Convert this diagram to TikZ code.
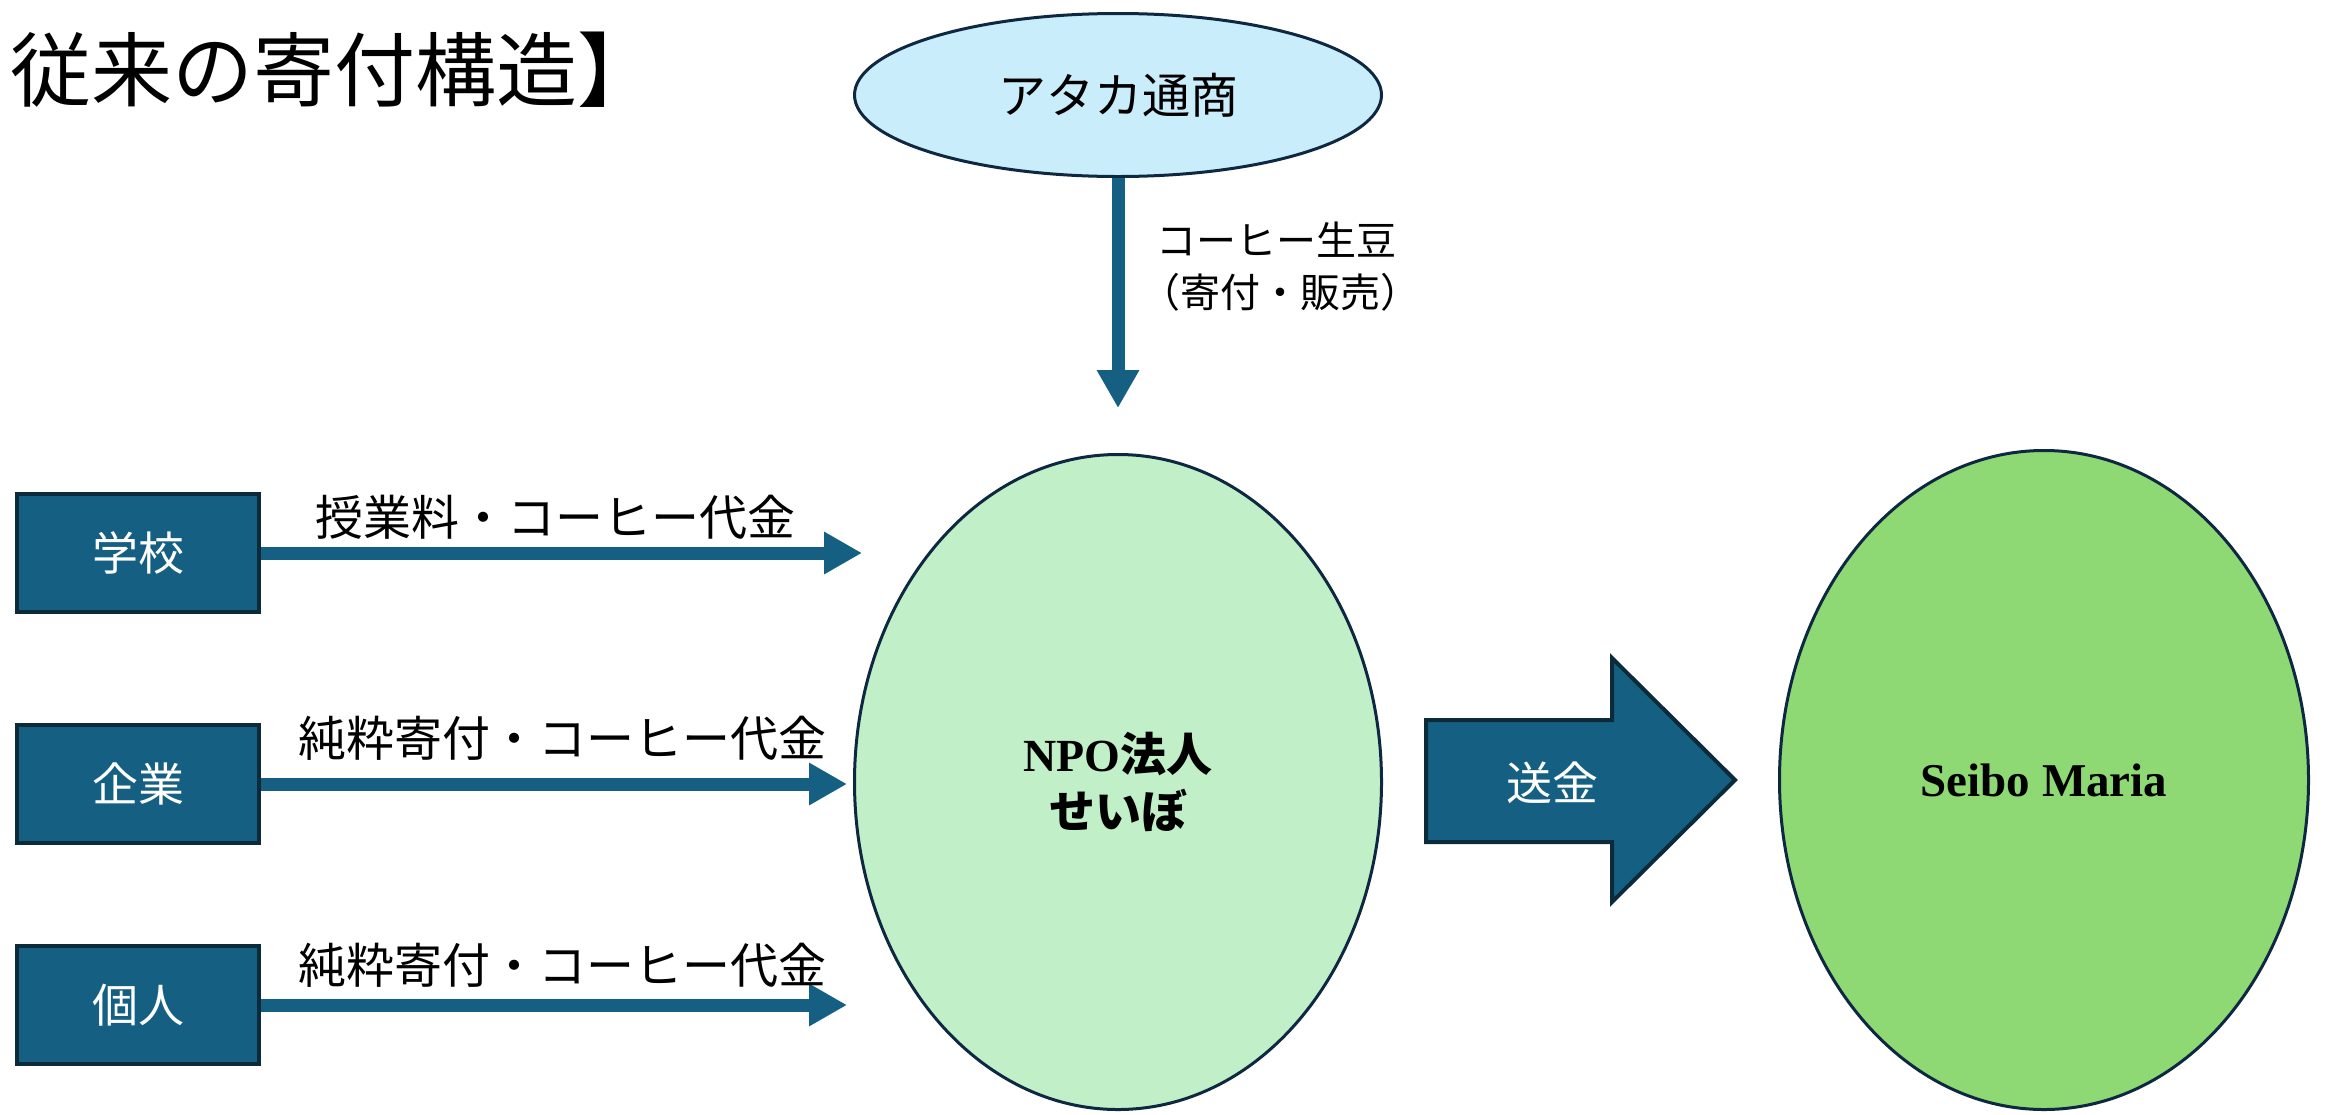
\documentclass[tikz,border=0pt]{standalone}
\usepackage{fontspec}
\setmainfont{Liberation Serif}
\newfontfamily\jp{Noto Sans CJK JP}
\usetikzlibrary{shapes.geometric,arrows.meta}
\definecolor{teal1}{HTML}{156082}
\definecolor{navy}{HTML}{0E2841}
\definecolor{boxline}{HTML}{0B2A3A}
\definecolor{lblue}{HTML}{CAEDFB}
\definecolor{lgreen}{HTML}{C1F0C8}
\definecolor{mgreen}{HTML}{8ED973}
\tikzset{
  ell/.style={ellipse, draw=navy, line width=3bp, inner sep=0pt, align=center},
  srcbox/.style={rectangle, draw=boxline, fill=teal1, line width=4.5bp, minimum width=242bp, minimum height=118bp, text=white, inner sep=0pt, font=\jp\fontsize{46bp}{55bp}\selectfont},
  flow/.style={draw=teal1, line width=13bp, -{Triangle[width=40bp,length=38bp]}},
  lbl/.style={font=\jp\fontsize{48bp}{58bp}\selectfont, inner sep=0pt},
}
\begin{document}
\begin{tikzpicture}[x=1bp,y=-1bp]
\useasboundingbox (0,0) rectangle (2329,1114);
\node[anchor=west, inner sep=0pt, font=\jp\fontsize{81bp}{86bp}\selectfont] (title) at (10,70) {従来の寄付構造】};

\node[ell, fill=lblue, minimum width=527bp, minimum height=163bp, font=\jp\fontsize{48bp}{58bp}\selectfont] (atk) at (1118,95) {アタカ通商};
\node[ell, fill=lgreen, minimum width=527bp, minimum height=655bp, font=\fontsize{46bp}{57bp}\selectfont\bfseries] (npo) at (1118,782) {NPO{\jp\bfseries 法人}\\{\jp\bfseries せいぼ}};
\node[ell, fill=mgreen, minimum width=529bp, minimum height=659bp, font=\fontsize{47bp}{57bp}\selectfont\bfseries] (seibo) at (2044,780) {Seibo Maria};

\coordinate (dtip) at (1118,408);
\draw[flow] (atk.south) -- (dtip);
\node[lbl, font=\jp\fontsize{40bp}{52bp}\selectfont, anchor=west, align=left] (beans) at (1156,267) {コーヒー生豆\\\hspace*{-16bp}（寄付・販売）};

\node[srcbox] (school) at (138,553) {学校};
\node[srcbox] (corp) at (138,784) {企業};
\node[srcbox] (indiv) at (138,1005) {個人};

\coordinate (t1) at (862,553);
\coordinate (t2) at (847,784);
\coordinate (t3) at (847,1005);
\draw[flow] (school.east) -- (t1);
\draw[flow] (corp.east) -- (t2);
\draw[flow] (indiv.east) -- (t3);

\node[lbl] (l1) at (555,517) {授業料・コーヒー代金};
\node[lbl] (l2) at (562,738) {純粋寄付・コーヒー代金};
\node[lbl] (l3) at (562,965) {純粋寄付・コーヒー代金};

\draw[fill=teal1, draw=boxline, line width=4bp, line join=miter] (1426,720) -- (1612,720) -- (1612,658) -- (1735,780) -- (1612,902) -- (1612,842) -- (1426,842) -- cycle;
\node[text=white, inner sep=0pt, font=\jp\fontsize{46bp}{55bp}\selectfont] (sokin) at (1552,783) {送金};
\end{tikzpicture}
\end{document}
